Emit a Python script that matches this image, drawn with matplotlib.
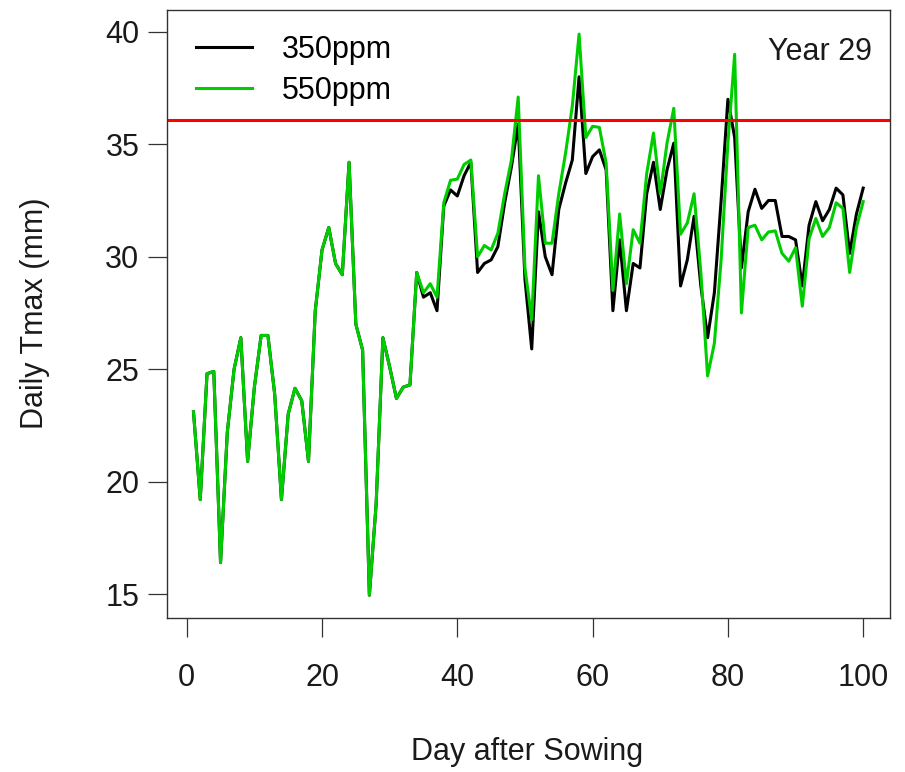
import numpy as np
import matplotlib
matplotlib.use("Agg")
import matplotlib.pyplot as plt

plt.rcParams["font.family"] = ["Liberation Sans", "DejaVu Sans"]

days = np.arange(1, 101)

# Daily Tmax, year 29, elevated CO2 run
tmax_550 = [
    23.1, 19.2, 24.8, 24.9, 16.4, 22.2, 25.0, 26.4, 20.9, 24.2,
    26.5, 26.5, 23.9, 19.2, 23.0, 24.15, 23.6, 20.9, 27.6, 30.3,
    31.3, 29.7, 29.2, 34.2, 27.0, 25.85, 14.95, 19.0, 26.4, 25.1,
    23.7, 24.2, 24.3, 29.3, 28.4, 28.8, 28.2, 32.4, 33.4, 33.45,
    34.1, 34.3, 30.0, 30.5, 30.3, 31.05, 32.8, 34.3, 37.1, 29.5,
    27.2, 33.6, 30.6, 30.6, 32.8, 34.6, 36.7, 39.9, 35.3, 35.8,
    35.75, 34.16, 28.5, 31.9, 28.8, 31.2, 30.6, 33.7, 35.5, 32.8,
    35.05, 36.6, 31.0, 31.5, 32.8, 29.3, 24.7, 26.15, 29.86, 35.05,
    39.0, 27.5, 31.3, 31.4, 30.75, 31.1, 31.15, 30.15, 29.8, 30.4,
    27.8, 30.8, 31.7, 30.9, 31.3, 32.4, 32.15, 29.3, 31.3, 32.45,
]

# ambient CO2 run: identical to the 550ppm run until day 34
tmax_350 = tmax_550[:34] + [
    28.2, 28.4, 27.6, 32.25, 32.97, 32.7,
    33.6, 34.2, 29.3, 29.7, 29.86, 30.45, 32.4, 34.0, 35.9, 29.0,
    25.9, 32.0, 30.0, 29.2, 32.1, 33.27, 34.3, 38.0, 33.7, 34.45,
    34.75, 33.86, 27.6, 30.75, 27.6, 29.7, 29.5, 32.8, 34.2, 32.1,
    33.86, 35.05, 28.7, 29.86, 31.8, 28.7, 26.4, 28.4, 32.5, 37.0,
    35.3, 29.5, 32.0, 33.0, 32.15, 32.5, 32.5, 30.9, 30.9, 30.75,
    28.7, 31.4, 32.45, 31.6, 32.1, 33.05, 32.75, 30.15, 31.9, 33.05,
]

threshold = 36.1
year_label = "Year 29"

fig = plt.figure(figsize=(9.05, 7.72), dpi=100)
ax = fig.add_axes([0.1842, 0.19987, 0.9834 - 0.1842, 0.98705 - 0.19987])

ax.plot(days, tmax_350, color="black", lw=2.2, label="350ppm")
ax.plot(days, tmax_550, color="#00CD00", lw=2.2, label="550ppm")
ax.axhline(threshold, color="#FF0000", lw=2.2)

ax.set_xlim(-2.96, 103.96)
ax.set_ylim(13.95, 40.97)
ax.set_xticks([0, 20, 40, 60, 80, 100])
ax.set_yticks([15, 20, 25, 30, 35, 40])

for sp in ax.spines.values():
    sp.set_color("#333333")
    sp.set_linewidth(1.0)
ax.tick_params(axis="both", direction="out", length=13.7, width=0.9,
               color="#333333", labelsize=22, labelcolor="#1a1a1a")
ax.tick_params(axis="x", pad=19)
ax.tick_params(axis="y", pad=6)

ax.legend(loc="upper left", frameon=False, fontsize=22,
          handlelength=1.85, handletextpad=0.98, labelspacing=0.35,
          borderpad=0.0, borderaxespad=0.0, bbox_to_anchor=(0.04, 0.959))
ax.text(0.975, 0.955, year_label, transform=ax.transAxes, ha="right",
        va="top", fontsize=22, color="#1a1a1a")

fig.text(527 / 905, 1 - 752 / 772, "Day after Sowing", ha="center",
         va="center", fontsize=22, color="#1a1a1a")
fig.text(35 / 905, 1 - 313 / 772, "Daily Tmax (mm)", ha="center",
         va="center", rotation=90, fontsize=22, color="#1a1a1a")

fig.savefig("out.png", dpi=100)
